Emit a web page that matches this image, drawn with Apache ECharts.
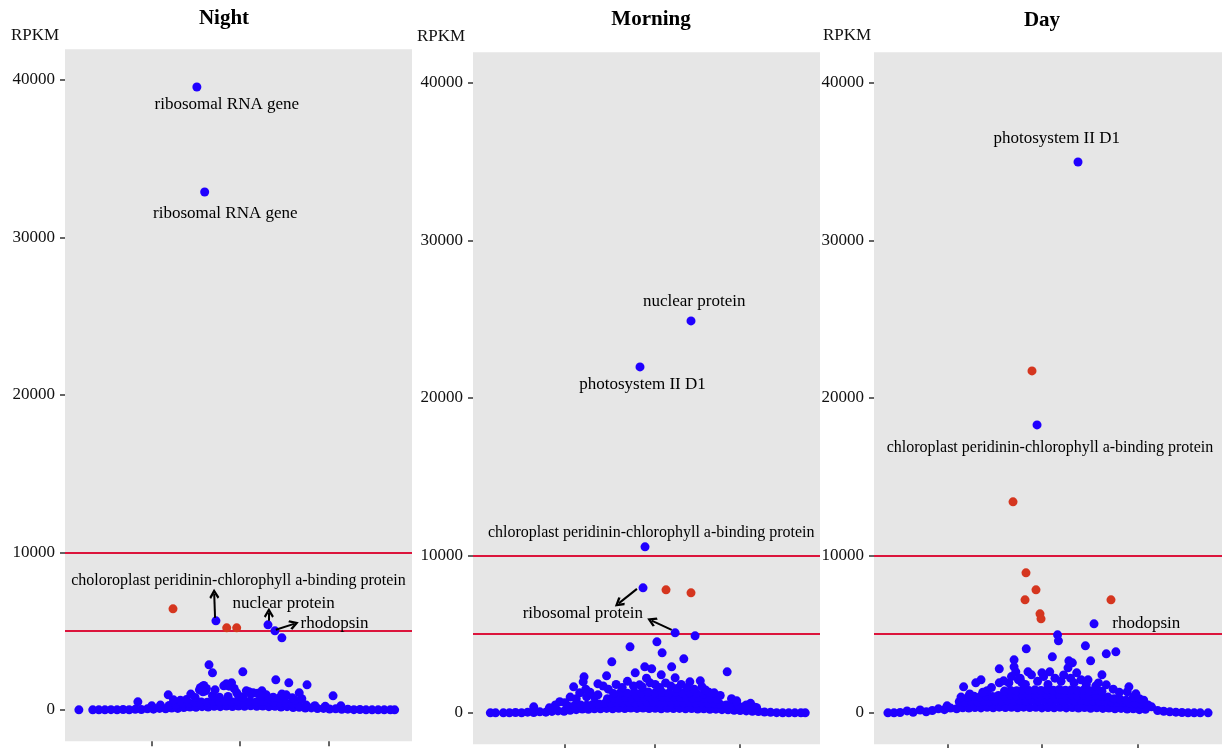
<!DOCTYPE html>
<html><head><meta charset="utf-8">
<script src="https://cdn.jsdelivr.net/npm/echarts@6/dist/echarts.min.js"></script>
<style>html,body{margin:0;padding:0;background:#fff}#c{width:1224px;height:748px}</style>
</head><body><div id="c"></div>
<script>
// ---------------- DATA ----------------
const panelTitles = ['Night', 'Morning', 'Day'];
const yLabel = 'RPKM';
const yTicks = [0, 10000, 20000, 30000, 40000];
const thresholds = [5000, 10000];
const nightXTicks = [1.0, 2.01, 3.035];
const morningXTicks = [1.06, 2.09, 3.08];
const dayXTicks = [0.85, 1.93, 3.03];

// Night
const nightBase = [[0.32,0],[0.39,0],[0.46,0],[0.53,10],[0.60,0],[0.67,20],[0.74,0],[0.81,30],[0.88,20],[0.95,60],[1.02,40],[1.09,90],[1.16,70],[1.23,110],[1.30,90],[1.37,150],[1.44,180],[1.51,160],[1.58,200],[1.65,180],[1.72,220],[1.79,200],[1.86,240],[1.93,210],[2.00,240],[2.07,220],[2.14,250],[2.21,220],[2.28,240],[2.35,200],[2.42,220],[2.49,180],[2.56,200],[2.63,150],[2.70,160],[2.77,110],[2.84,120],[2.91,80],[2.98,90],[3.05,50],[3.12,60],[3.19,30],[3.26,40],[3.33,10],[3.40,20],[3.47,0],[3.54,0],[3.61,0],[3.68,0],[3.75,0],[3.80,0]];
const nightMound = [[1.00,250],[1.10,300],[1.20,280],[1.28,320],[1.36,380],[1.43,420],[1.50,460],[1.57,500],[1.64,480],[1.71,520],[1.78,500],[1.85,540],[1.92,510],[1.99,550],[2.06,520],[2.13,540],[2.20,500],[2.27,530],[2.34,490],[2.41,470],[2.48,440],[2.55,420],[2.62,380],[2.69,350],[2.78,300],[2.88,260],[3.00,220],[3.18,250],
  [1.40,650],[1.33,600],[1.70,900],[1.78,800],[2.05,800],[2.35,700],[2.47,750],[2.65,600],[2.73,700]];
const nightScatter = [[0.16,0],[1.66,2857],[1.70,2349],[2.05,2413],[2.43,1905],[2.58,1714],[2.79,1587],[2.70,1079],[3.09,889],[1.19,952],[0.84,508],[1.92,1714],[1.83,1524],[1.58,1460],[1.55,1270],[1.62,1200],[2.27,1206],[2.09,1206],[1.98,1079],[2.17,1079],[1.73,1270],[2.55,952],[1.25,635],[2.00,900],[2.32,950],[1.45,1000],[1.88,850],[2.40,800],[1.50,780],[2.62,760],
  [1.56,1400],[1.60,1550],[1.63,1350],[1.59,1150],[1.86,1650],[1.89,1500],[1.95,1350],[2.12,1150],[2.14,1000],[2.22,1050],[2.25,900],[2.50,1000],[2.53,850]];
const nightHigh = [[1.52,39556],[1.61,32889],[1.74,5651],[2.34,5397],[2.42,5016],[2.50,4571]];
const nightRed = [[1.245,6413],[1.864,5206],[1.979,5206]];
const nightNotes = [
  ['ribosomal RNA gene', 1.865, 38413],
  ['ribosomal RNA gene', 1.848, 31524],
  ['choloroplast peridinin-chlorophyll a-binding protein', 2.0, 8190],
  ['nuclear protein', 2.52, 6730],
  ['rhodopsin', 3.107, 5460]
];
const nightArrows = [[1.73,5840,1.72,7365],[2.35,5650,2.35,6159],[2.43,5080,2.64,5460]];

// Morning
const morningBase = [[0.20,0],[0.26,0],[0.35,0],[0.42,0],[0.49,20],[0.56,0],[0.63,40],[0.70,20],[0.77,60],[0.84,40],[0.91,90],[0.98,120],[1.05,100],[1.12,160],[1.19,200],[1.26,240],[1.33,220],[1.40,260],[1.47,250],[1.54,280],[1.61,260],[1.68,290],[1.75,270],[1.82,300],[1.89,280],[1.96,300],[2.03,270],[2.10,290],[2.17,260],[2.24,290],[2.31,270],[2.38,280],[2.45,250],[2.52,270],[2.59,240],[2.66,250],[2.73,220],[2.80,230],[2.87,200],[2.94,190],[3.01,160],[3.08,150],[3.15,120],[3.22,100],[3.29,80],[3.36,50],[3.43,30],[3.50,10],[3.57,0],[3.64,0],[3.71,0],[3.78,0],[3.83,0]];
const morningMound = [[1.10,420],[1.17,460],[1.24,500],[1.31,480],[1.38,530],[1.45,560],[1.52,600],[1.59,620],[1.66,650],[1.73,630],[1.80,660],[1.87,640],[1.94,670],[2.01,650],[2.08,680],[2.15,650],[2.22,670],[2.29,640],[2.36,660],[2.43,630],[2.50,650],[2.57,620],[2.64,640],[2.71,600],[2.78,580],[2.85,540],[2.92,500],[2.99,470],[3.06,440],[3.13,400],[3.20,350],[3.27,320],
  [1.55,900],[1.62,950],[1.69,920],[1.76,980],[1.83,950],[1.90,1000],[1.97,970],[2.04,1010],[2.11,980],[2.18,1020],[2.25,990],[2.32,1010],[2.39,970],[2.46,1000],[2.53,960],[2.60,980],[2.67,930],[2.74,900],[2.81,850],
  [1.62,1220],[1.70,1280],[1.78,1240],[1.86,1300],[1.94,1260],[2.02,1320],[2.10,1270],[2.18,1310],[2.26,1260],[2.34,1300],[2.42,1250],[2.50,1280],[2.58,1230],[2.66,1200],
  [1.40,1000],[1.12,1000],[1.00,700],[0.95,500],[2.98,900],[2.85,1100],[2.72,1300],[3.20,600]];
const morningScatter = [[1.81,4190],[2.12,4508],[2.18,3810],[2.43,3429],[1.60,3238],[2.93,2603],[1.98,2921],[2.06,2794],[2.29,2921],[2.17,2413],[1.87,2540],[2.33,2222],[1.28,2286],[1.54,2349],[2.50,1968],[2.62,2032],[1.16,1651],[1.27,1968],[1.44,1841],[2.04,1905],[1.92,1778],[1.23,1270],[1.31,1016],[1.44,1143],[2.78,1270],[2.64,1651],[3.04,762],[1.19,889],[1.06,635],[0.70,381],[0.88,317],[3.15,500],[3.25,350],
  [1.50,1700],[1.56,1500],[1.65,1800],[1.72,1600],[1.78,2000],[1.85,1700],[1.95,1650],[2.00,2200],[2.10,1800],[2.15,1600],[2.22,1900],[2.28,1700],[2.35,1550],[2.40,1800],[2.47,1600],[2.55,1500],[2.68,1450],[1.35,1300],[1.30,1500]];
const morningHigh = [[2.513,24889],[1.925,21968],[1.983,10540],[1.96,7937],[2.33,5079],[2.56,4889]];
const morningRed = [[2.225,7810],[2.513,7619]];
const morningNotes = [
  ['nuclear protein', 2.55, 26127],
  ['photosystem II D1', 1.954, 20870],
  ['chloroplast peridinin-chlorophyll a-binding protein', 2.054, 11429],
  ['ribosomal protein', 1.266, 6328]
];
const morningArrows = [[1.89,7873,1.68,6952],[2.29,5270,2.06,5860]];

// Day
const dayBase = [[0.16,0],[0.23,0],[0.30,20],[0.38,120],[0.45,30],[0.53,180],[0.60,60],[0.67,150],[0.74,250],[0.81,200],[0.88,300],[0.95,260],[1.02,320],[1.09,300],[1.16,340],[1.23,310],[1.30,350],[1.37,320],[1.44,360],[1.51,330],[1.58,350],[1.65,320],[1.72,360],[1.79,330],[1.86,350],[1.93,310],[2.00,340],[2.07,320],[2.14,350],[2.21,310],[2.28,340],[2.35,300],[2.42,330],[2.49,290],[2.56,320],[2.63,280],[2.70,300],[2.77,260],[2.84,280],[2.91,240],[2.98,250],[3.05,200],[3.12,220],[3.19,380],[3.26,150],[3.33,100],[3.40,60],[3.47,40],[3.54,20],[3.61,0],[3.68,0],[3.75,0],[3.84,0]];
const dayMound = [[0.98,700],[1.05,680],[1.12,720],[1.19,700],[1.26,740],[1.33,710],[1.40,760],[1.47,730],[1.54,770],[1.61,740],[1.68,780],[1.75,750],[1.82,790],[1.89,760],[1.96,780],[2.03,750],[2.10,790],[2.17,760],[2.24,780],[2.31,740],[2.38,770],[2.45,730],[2.52,760],[2.59,720],[2.66,740],[2.73,700],[2.80,680],[2.87,650],[2.94,620],[3.01,580],[3.08,540],[3.15,500],
  [1.08,1000],[1.15,1050],[1.22,1020],[1.29,1080],[1.36,1040],[1.43,1100],[1.50,1070],[1.57,1120],[1.64,1090],[1.71,1130],[1.78,1100],[1.85,1140],[1.92,1110],[1.99,1150],[2.06,1120],[2.13,1160],[2.20,1120],[2.27,1150],[2.34,1100],[2.41,1130],[2.48,1080],[2.55,1100],[2.62,1040],[2.69,1000],[2.76,900],[2.83,850],[2.90,800],
  [1.50,1380],[1.57,1420],[1.64,1400],[1.71,1450],[1.78,1410],[1.85,1460],[1.92,1420],[1.99,1470],[2.06,1430],[2.13,1480],[2.20,1440],[2.27,1470],[2.34,1420],[2.41,1450],[2.48,1400],[2.55,1420],[2.62,1370],
  [1.30,1400],[1.25,1300],[1.10,1200],[1.00,1000],[2.75,1500],[2.82,1300],[2.98,1000],[3.05,900],[3.10,800]];
const dayScatter = [[2.11,4952],[2.12,4571],[2.43,4254],[1.75,4063],[2.67,3746],[2.78,3873],[2.05,3556],[1.61,3365],[2.49,3302],[2.24,3302],[2.28,3175],[1.44,2794],[1.61,2921],[1.63,2603],[1.77,2603],[1.81,2413],[2.23,2857],[2.33,2540],[1.93,2540],[2.02,2603],[2.62,2413],[2.46,2095],[2.67,1778],[1.44,1905],[1.49,2032],[1.03,1651],[1.17,1905],[1.23,2095],[2.93,1651],[2.91,1333],[3.01,1206],[1.66,2095],[1.70,1905],[0.84,444],[3.14,381],
  [1.55,1900],[1.58,2300],[1.68,2200],[1.74,1800],[1.88,2000],[1.95,2300],[2.00,1800],[2.08,2200],[2.15,2000],[2.18,2400],[2.26,2200],[2.30,1900],[2.38,2100],[2.44,1800],[2.55,1700],[2.58,1900],[1.35,1600]];
const dayHigh = [[2.345,34984],[1.874,18286],[2.529,5651]];
const dayRed = [[1.816,21714],[1.598,13397],[1.747,8889],[1.862,7810],[1.736,7175],[1.908,6286],[1.92,5968],[2.724,7175]];
const dayNotes = [
  ['photosystem II D1', 2.10, 36489],
  ['chloroplast peridinin-chlorophyll a-binding protein', 2.023, 16825],
  ['rhodopsin', 3.129, 5663]
];
const dayArrows = [];

// ---------------- CHART ----------------
const FONT = 'Liberation Serif';
const BLUE = '#2000ff', RED = '#d5361f', LINE_RED = '#dc143c', BG = '#e6e6e6';
const ARROW = 'path://M0,0L6,8L4,9.6L0,4.2L-4,9.6L-6,8Z';

const grids = [
  {left: 65, top: 49.3, width: 347, height: 692},
  {left: 473, top: 52.3, width: 347, height: 692},
  {left: 874, top: 52.3, width: 348, height: 692}
];
const xTickSets = [nightXTicks, morningXTicks, dayXTicks];
const panels = [
  {blue: [].concat(nightBase, nightMound, nightScatter, nightHigh), red: nightRed, notes: nightNotes, arrows: nightArrows},
  {blue: [].concat(morningBase, morningMound, morningScatter, morningHigh), red: morningRed, notes: morningNotes, arrows: morningArrows},
  {blue: [].concat(dayBase, dayMound, dayScatter, dayHigh), red: dayRed, notes: dayNotes, arrows: dayArrows}
];

const titleStyle = {fontFamily: FONT, fontWeight: 'bold', fontSize: 21, color: '#000'};
const nameStyle = {fontFamily: FONT, fontWeight: 'normal', fontSize: 17, color: '#111'};
const option = {
  animation: false,
  backgroundColor: '#ffffff',
  title: [
    {text: panelTitles[0], left: 224, top: 8, textAlign: 'center', padding: 0, textStyle: titleStyle},
    {text: panelTitles[1], left: 651, top: 9, textAlign: 'center', padding: 0, textStyle: titleStyle},
    {text: panelTitles[2], left: 1042, top: 10.5, textAlign: 'center', padding: 0, textStyle: titleStyle},
    {text: yLabel, left: 11, top: 27, padding: 0, textStyle: nameStyle},
    {text: yLabel, left: 417, top: 28, padding: 0, textStyle: nameStyle},
    {text: yLabel, left: 823, top: 27, padding: 0, textStyle: nameStyle}
  ],
  grid: grids.map(g => Object.assign({show: true, backgroundColor: BG, borderWidth: 0, containLabel: false}, g)),
  xAxis: grids.map((g, i) => ({
    gridIndex: i, type: 'value', min: 0, max: 4,
    axisLine: {show: false, onZero: false},
    splitLine: {show: false},
    axisLabel: {show: false},
    axisTick: {show: true, customValues: xTickSets[i], length: 5, lineStyle: {color: '#333', width: 1.5}}
  })),
  yAxis: grids.map((g, i) => ({
    gridIndex: i, type: 'value', min: -2000, max: 41950,
    axisLine: {show: false, onZero: false},
    splitLine: {show: false},
    axisTick: {show: true, customValues: yTicks, length: 5, lineStyle: {color: '#333', width: 1.5}},
    axisLabel: {customValues: yTicks, margin: 10, fontFamily: FONT, fontSize: 17, color: '#111', formatter: v => String(v)}
  })),
  series: []
};

panels.forEach((p, i) => {
  option.series.push({
    type: 'scatter', xAxisIndex: i, yAxisIndex: i, symbolSize: 9, progressive: 0,
    itemStyle: {color: BLUE, opacity: 1}, data: p.blue, z: 2,
    markLine: {
      silent: true, symbol: ['none', 'none'], z: 1, animation: false,
      label: {show: false},
      lineStyle: {color: LINE_RED, width: 2, type: 'solid'},
      data: thresholds.map(t => ({yAxis: t}))
    }
  });
  option.series.push({
    type: 'scatter', xAxisIndex: i, yAxisIndex: i, symbolSize: 9, progressive: 0,
    itemStyle: {color: RED, opacity: 1}, data: p.red, z: 3
  });
  option.series.push({
    type: 'scatter', xAxisIndex: i, yAxisIndex: i, symbolSize: 1, z: 4, silent: true,
    itemStyle: {color: 'rgba(0,0,0,0)'},
    label: {show: true, position: 'inside', formatter: '{b}', fontFamily: FONT, fontSize: 17, color: '#000', opacity: 1, textBorderWidth: 0},
    data: p.notes.map(n => ({
      name: n[0], value: [n[1], n[2]],
      label: n[0].length > 30 ? {fontSize: 16} : undefined
    })),
    markLine: {
      silent: true, z: 5, animation: false,
      symbol: ['none', ARROW], symbolSize: 10,
      label: {show: false},
      lineStyle: {color: '#000', width: 2, type: 'solid'},
      data: p.arrows.map(a => [{coord: [a[0], a[1]]}, {coord: [a[2], a[3]]}])
    }
  });
});

const chart = echarts.init(document.getElementById('c'), null, {renderer: 'canvas'});
chart.setOption(option);
</script>
</body></html>
